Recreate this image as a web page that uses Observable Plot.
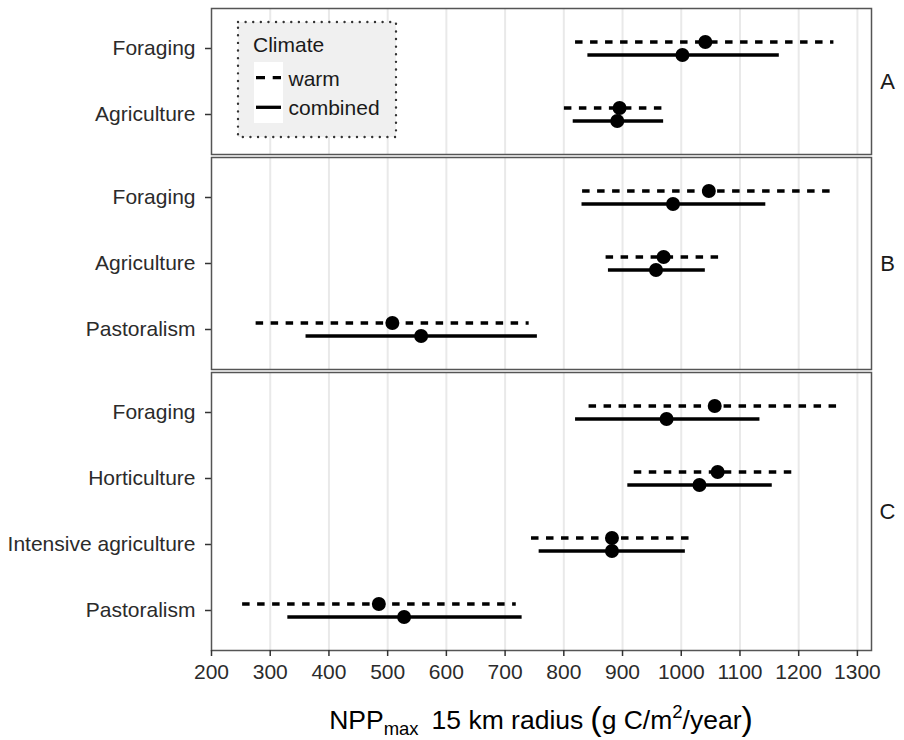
<!DOCTYPE html>
<html>
<head>
<meta charset="utf-8">
<script src="https://cdn.jsdelivr.net/npm/d3@7"></script>
<script src="https://cdn.jsdelivr.net/npm/@observablehq/plot@0.6"></script>
<style>
  html, body { margin: 0; padding: 0; background: #fff; }
  #chart { position: relative; width: 904px; height: 740px; font-family: "Liberation Sans", Arial, sans-serif; }
  #chart svg { display: block; }
  #legend { position: absolute; left: 236px; top: 20px; }
</style>
</head>
<body>
<div id="chart"></div>
<script>
// ---- data ----
const panelNames = ["A", "B", "C"];
const categoriesA = ["Foraging", "Agriculture"];
const categoriesB = ["Foraging", "Agriculture", "Pastoralism"];
const categoriesC = ["Foraging", "Horticulture", "Intensive agriculture", "Pastoralism"];
const climates = ["warm", "combined"];

// order: A (Foraging, Agriculture), B (Foraging, Agriculture, Pastoralism), C (Foraging, Horticulture, Intensive agriculture, Pastoralism)
const warmMean     = [1041, 895, 1047, 970, 508, 1057, 1062, 882, 485];
const warmLow      = [ 820, 801,  832, 872, 276,  843,  920, 745, 253];
const warmHigh     = [1260, 975, 1263, 1068, 741, 1272, 1199, 1021, 719];
const combinedMean = [1002, 891,  986, 957, 557,  975, 1031, 882, 528];
const combinedLow  = [ 841, 816,  831, 876, 361,  820,  909, 758, 330];
const combinedHigh = [1167, 970, 1144, 1041, 755, 1134, 1155, 1007, 729];

const xTicks = [200, 300, 400, 500, 600, 700, 800, 900, 1000, 1100, 1200, 1300];
const xDomain = [200, 1324];

// ---- build table ----
const panelCats = [categoriesA, categoriesB, categoriesC];
const rowPanel = panelCats.flatMap((cats, i) => cats.map(() => panelNames[i]));
const rowCat = panelCats.flat();
const rows = [];
rowCat.forEach((c, i) => {
  rows.push({panel: rowPanel[i], category: c, climate: climates[0], mean: warmMean[i], lo: warmLow[i], hi: warmHigh[i]});
  rows.push({panel: rowPanel[i], category: c, climate: climates[1], mean: combinedMean[i], lo: combinedLow[i], hi: combinedHigh[i]});
});

const FONT = "Liberation Sans, Arial, sans-serif";
const OFF = 6.5;
const FS = 21;

function panel(name, cats, layout) {
  const data = rows.filter(d => d.panel === name);
  const warm = data.filter(d => d.climate === "warm");
  const comb = data.filter(d => d.climate === "combined");
  const marks = [
    Plot.gridX(xTicks.filter(t => t > xDomain[0]), {stroke: "#e9e9e9", strokeOpacity: 1, strokeWidth: 2}),
    Plot.axisY({tickSize: 6, tickPadding: 10, label: null, fontSize: FS, stroke: "#333", strokeWidth: 1.5, fill: "#2b2b2b"}),
    Plot.ruleY(warm, {y: "category", x1: "lo", x2: "hi", dy: -OFF, stroke: "black", strokeWidth: 3.3, strokeDasharray: "7.5,7.5"}),
    Plot.ruleY(comb, {y: "category", x1: "lo", x2: "hi", dy: OFF, stroke: "black", strokeWidth: 3.3}),
    Plot.dot(warm, {x: "mean", y: "category", dy: -OFF, r: 7, fill: "black", stroke: "none"}),
    Plot.dot(comb, {x: "mean", y: "category", dy: OFF, r: 7, fill: "black", stroke: "none"}),
    Plot.text([name], {frameAnchor: "right", dx: 16, textAnchor: "middle", fontSize: 22, fill: "#1a1a1a"}),
    Plot.frame({stroke: "#555", strokeWidth: 1.5})
  ];
  if (layout.xAxis) {
    marks.push(Plot.axisX({ticks: xTicks, tickSize: 6, tickPadding: 8, label: null, fontSize: FS, stroke: "#333", strokeWidth: 1.5, fill: "#2b2b2b", tickFormat: d => String(d)}));
  }
  return Plot.plot({
    width: 904,
    height: layout.height,
    marginLeft: 211,
    marginRight: 33,
    marginTop: layout.top,
    marginBottom: layout.bottom,
    style: {fontFamily: FONT, fontSize: FS + "px", color: "#333", background: "transparent", overflow: "visible"},
    x: {domain: xDomain, axis: null},
    y: {type: "point", domain: cats, padding: 0.6, axis: null},
    marks
  });
}

const chart = document.getElementById("chart");
const pA = panel("A", categoriesA, {height: 154, top: 8, bottom: 0});
const pB = panel("B", categoriesB, {height: 215, top: 3, bottom: 0});
const pC = panel("C", categoriesC, {height: 371, top: 3, bottom: 90, xAxis: true});
chart.append(pA, pB, pC);

// x-axis title with subscript / superscript
const t = d3.select(pC).append("text")
  .attr("x", 541).attr("y", 360)
  .attr("text-anchor", "middle")
  .attr("fill", "black")
  .style("font-family", FONT)
  .style("font-size", "26.5px");
t.append("tspan").text("NPP");
t.append("tspan").attr("dy", 6).style("font-size", "18.5px").text("max");
t.append("tspan").attr("dy", -6).attr("dx", 13).text("15 km radius");
t.append("tspan").attr("dx", 7).attr("dy", 1).style("font-size", "34px").text("(");
t.append("tspan").attr("dy", -1).text("g C/m");
t.append("tspan").attr("dy", -11).style("font-size", "18.5px").text("2");
t.append("tspan").attr("dy", 11).text("/year");
t.append("tspan").attr("dy", 1).style("font-size", "34px").text(")");

// legend (inside panel A, top-left)
const lg = d3.select(chart).append("svg")
  .attr("id", "legend").attr("width", 162).attr("height", 120)
  .style("font-family", FONT);
lg.append("rect").attr("x", 2).attr("y", 2).attr("width", 158).attr("height", 115)
  .attr("fill", "#f0f0f0").attr("stroke", "#333").attr("stroke-width", 2.4)
  .attr("stroke-linecap", "round").attr("stroke-dasharray", "0.01 7.6");
lg.append("text").attr("x", 17).attr("y", 31.7).attr("font-size", 21).attr("fill", "#1a1a1a").text("Climate");
lg.append("rect").attr("x", 18).attr("y", 42).attr("width", 29).attr("height", 61).attr("fill", "white");
const keyY = [57.7, 87.3];
const keyDash = ["9,7.7", null];
climates.forEach((c, i) => {
  const l = lg.append("line").attr("x1", 20).attr("x2", 45).attr("y1", keyY[i]).attr("y2", keyY[i])
    .attr("stroke", "black").attr("stroke-width", 3.3);
  if (keyDash[i]) l.attr("stroke-dasharray", keyDash[i]);
  lg.append("text").attr("x", 52.5).attr("y", keyY[i] + 8).attr("font-size", 21).attr("fill", "#1a1a1a").text(c);
});
</script>
</body>
</html>
